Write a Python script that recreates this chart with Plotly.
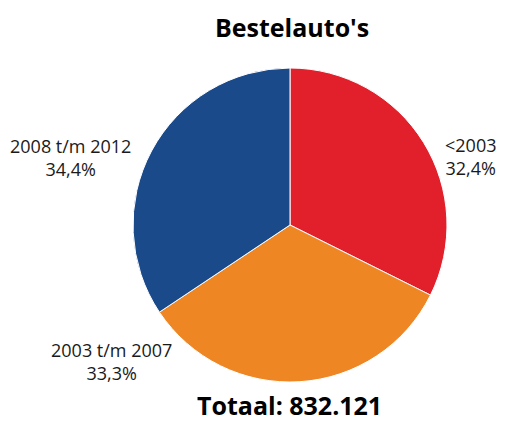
import plotly.graph_objects as go

categorieen = ['<2003', '2003 t/m 2007', '2008 t/m 2012']
aandeel = [32.4, 33.3, 34.4]
aandeel_tekst = ['32,4%', '33,3%', '34,4%']
kleuren = ['#e2202b', '#ee8623', '#1a4a8a']
totaal = '832.121'

# de pagina heeft 8px marge; rechts wordt de figuur afgekapt op de div-breedte
W, H = 505, 415

fig = go.Figure(go.Pie(
    labels=categorieen,
    values=aandeel,
    sort=False,
    direction='clockwise',
    rotation=0,
    marker=dict(colors=kleuren, line=dict(color='white', width=1)),
    textinfo='none',
    showlegend=False,
    hoverinfo='label+percent',
    domain=dict(x=[0.2475, 0.8693], y=[0.0988, 0.8554]),
))

# labelposities rond de taart (paper-coördinaten)
label_pos = [(0.9149, 0.643), (0.204, 0.147), (0.1228, 0.639)]

ann = []
for naam, pct, (lx, ly) in zip(categorieen, aandeel_tekst, label_pos):
    ann.append(dict(
        text=naam + '<br>' + pct,
        x=lx, y=ly, xref='paper', yref='paper',
        xanchor='center', yanchor='middle', align='center',
        showarrow=False,
        font=dict(family='Open Sans', size=18, color='#1a1a1a'),
    ))

ann.append(dict(
    text="<b>Bestelauto's</b>",
    x=0.5624, y=0.954, xref='paper', yref='paper',
    xanchor='center', yanchor='middle', showarrow=False,
    font=dict(family='Open Sans', size=25, color='black'),
))
ann.append(dict(
    text='<b>Totaal: ' + totaal + '</b>',
    x=0.5584, y=0.0, xref='paper', yref='paper',
    xanchor='center', yanchor='bottom', showarrow=False,
    borderpad=0,
    font=dict(family='Open Sans', size=25, color='black'),
))

fig.update_layout(
    width=W,
    height=H,
    margin=dict(l=0, r=0, t=0, b=0),
    paper_bgcolor='white',
    annotations=ann,
)

fig.write_html("out.html")
